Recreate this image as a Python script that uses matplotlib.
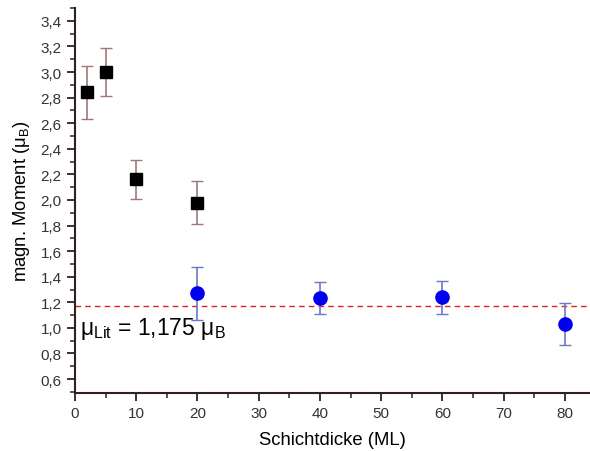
import matplotlib
matplotlib.use("Agg")
import matplotlib.pyplot as plt
from matplotlib.ticker import MultipleLocator, FuncFormatter

plt.rcParams['font.family'] = ['Liberation Sans', 'DejaVu Sans']

# Daten: schwarze Quadrate (dünne Schichten)
dicke_sq = [2, 5, 10, 20]
moment_sq = [2.84, 3.00, 2.16, 1.98]
fehler_sq = [0.21, 0.19, 0.155, 0.165]

# Daten: blaue Kreise
dicke_ci = [20, 40, 60, 80]
moment_ci = [1.27, 1.23, 1.24, 1.03]
fehler_ci = [0.205, 0.125, 0.13, 0.165]

mu_lit = 1.175

fig = plt.figure(figsize=(5.9, 4.52), dpi=100)
ax = fig.add_axes([0.127, 0.128, 0.873, 0.852])

ax.errorbar(dicke_sq, moment_sq, yerr=fehler_sq, fmt='s', color='black',
            ecolor='#a07878', elinewidth=1.2, capsize=4, capthick=1.0,
            markersize=8.5, zorder=3)
ax.errorbar(dicke_ci, moment_ci, yerr=fehler_ci, fmt='o', color='#0000ee',
            ecolor='#6a78c8', elinewidth=1.2, capsize=4, capthick=1.0,
            markersize=9.5, zorder=3)

ax.axhline(mu_lit, color='#dd2222', linestyle=(0, (4, 3)), linewidth=1.0, zorder=2)

ax.text(0.8, 1.0, r'$\mathregular{\mu_{Lit}}$ = 1,175 $\mathregular{\mu_B}$',
        fontsize=16.5, va='center', ha='left')

ax.set_xlim(0, 84.1)
ax.set_ylim(0.49, 3.5)

ax.xaxis.set_major_locator(MultipleLocator(10))
ax.xaxis.set_minor_locator(MultipleLocator(5))
ax.yaxis.set_major_locator(MultipleLocator(0.2))
ax.yaxis.set_minor_locator(MultipleLocator(0.1))
ax.yaxis.set_major_formatter(FuncFormatter(lambda v, p: f"{v:.1f}".replace('.', ',')))

spine_col = '#302020'
for s in ['top', 'right']:
    ax.spines[s].set_visible(False)
for s in ['left', 'bottom']:
    ax.spines[s].set_color(spine_col)
    ax.spines[s].set_linewidth(1.5)

ax.tick_params(which='major', direction='out', length=6, width=1.3, color=spine_col,
               labelsize=11, labelcolor='#333333')
ax.tick_params(which='minor', direction='out', length=3.5, width=1.1, color=spine_col)

ax.set_xlabel('Schichtdicke (ML)', fontsize=13.3, labelpad=8)
ax.set_ylabel(r'magn. Moment ($\mathregular{\mu_B}$)', fontsize=13.3, labelpad=6)

fig.savefig('out.png', dpi=100)
